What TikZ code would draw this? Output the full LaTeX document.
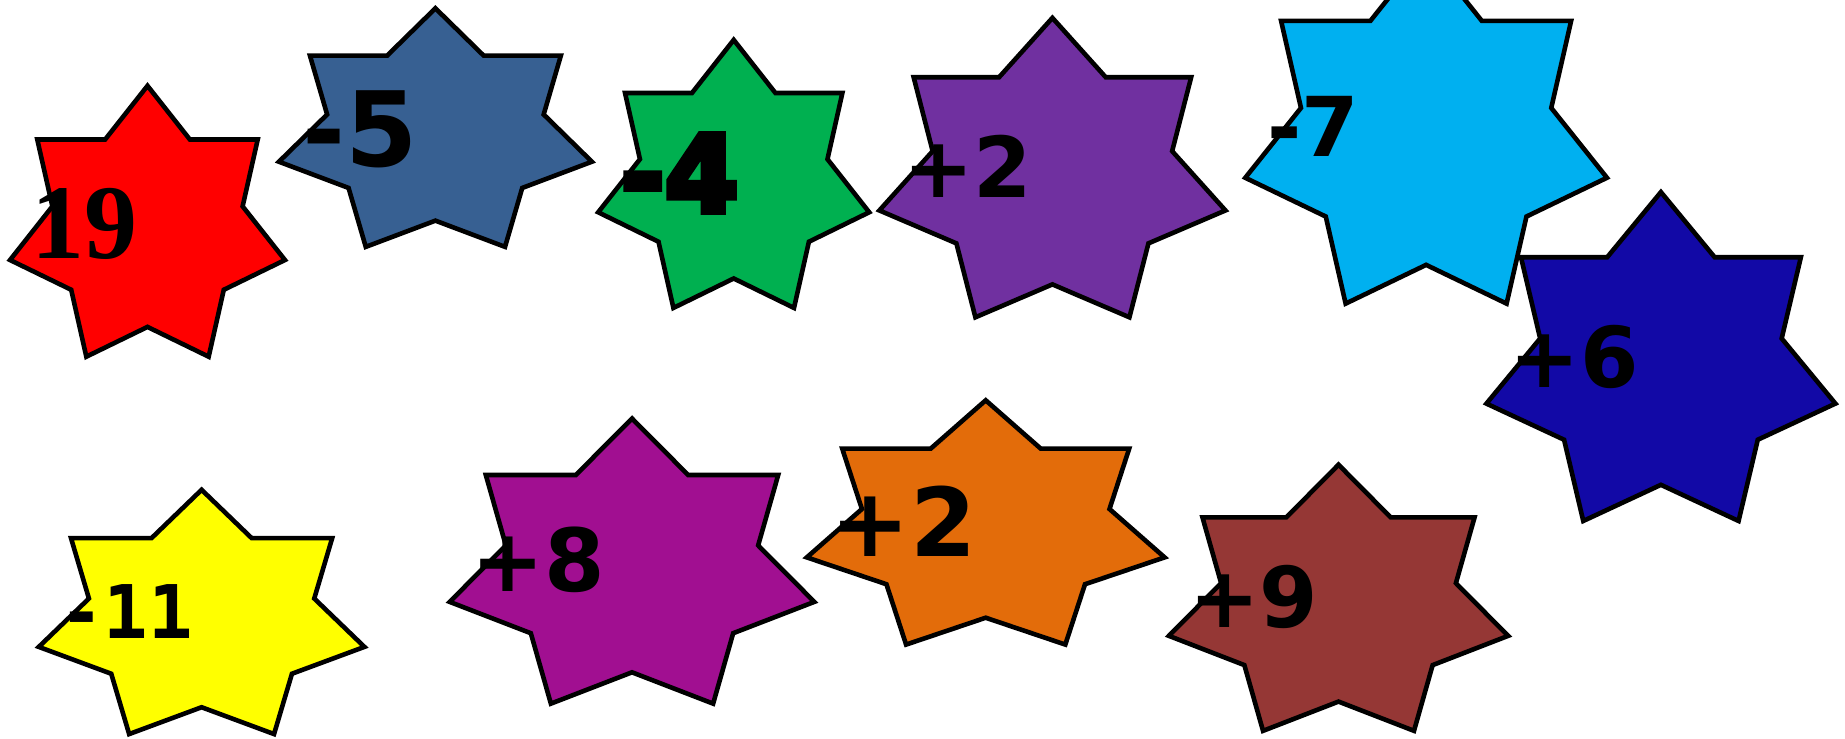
\documentclass[tikz,border=0pt]{standalone}
\usepackage{fontspec}
\setmainfont{DejaVu Sans}
\newfontfamily\timesbold{Liberation Serif}
\newfontfamily\monobold{DejaVu Sans Mono}
\newfontfamily\thickbold{DejaVu Sans}[BoldFeatures={FakeBold=6}]

\tikzset{
  starline/.style={draw=black, line width=2.3pt, line join=miter},
  numlabel/.style={anchor=base, inner sep=0pt, text=black}
}

% seven-point star: fill, cx, cy, rx, ry (pixel units, y down)
\newcommand{\heptagram}[5]{%
  \filldraw[starline, fill=#1] plot[samples at={0,...,13}]
    ({#2+#4*(1-0.308*mod(\x,2))*cos(-90+\x*180/7)},
     {#3+#5*(1-0.308*mod(\x,2))*sin(-90+\x*180/7)}) -- cycle;}

\definecolor{starred}{HTML}{FF0000}
\definecolor{starsteel}{HTML}{376092}
\definecolor{stargreen}{HTML}{00B050}
\definecolor{starpurple}{HTML}{7030A0}
\definecolor{starcyan}{HTML}{00B0F0}
\definecolor{starnavy}{HTML}{1209A6}
\definecolor{staryellow}{HTML}{FFFF00}
\definecolor{starmagenta}{HTML}{A10F91}
\definecolor{starorange}{HTML}{E36C0A}
\definecolor{starbrown}{HTML}{953735}

\begin{document}
\begin{tikzpicture}[x=0.5pt,y=-0.5pt]
\useasboundingbox (0,0) rectangle (1845,738);
% top row
\heptagram{starred}{147.5}{228.3}{141}{142.5}
\heptagram{starsteel}{435.4}{133.8}{160.5}{125.5}
\heptagram{stargreen}{733.7}{180.9}{139}{141}
\heptagram{starpurple}{1052.4}{175.4}{177.5}{157.5}
\heptagram{starcyan}{1426.1}{136.5}{185.5}{185.5}
\heptagram{starnavy}{1660.9}{365.1}{179}{173}
% bottom row
\heptagram{staryellow}{201.6}{618.3}{167}{128.5}
\heptagram{starmagenta}{632}{568.5}{187}{150}
\heptagram{starorange}{985.7}{528.8}{183.5}{128.5}
\heptagram{starbrown}{1338.5}{604.7}{174}{140}
% values
\node[numlabel, font=\timesbold\bfseries\fontsize{53}{60}\selectfont] (n19) at (84.2,258.9) {19};
\node[numlabel, font=\bfseries\fontsize{52}{60}\selectfont] (nm5) at (359.9,166.1) {-5};
\node[numlabel, font=\thickbold\bfseries\fontsize{53}{60}\selectfont] (nm4) at (679.6,211.6) {-4};
\node[numlabel, font=\bfseries\fontsize{42}{50}\selectfont] (np2a) at (967.4,197.7) {+2};
\node[numlabel, font=\bfseries\fontsize{41.3}{50}\selectfont] (nm7) at (1313,156.7) {-7};
\node[numlabel, font=\bfseries\fontsize{42}{50}\selectfont] (np6) at (1574.2,387.5) {+6};
\node[numlabel, font=\monobold\bfseries\fontsize{37}{44}\selectfont] (nm11) at (126.1,638.7) {-11};
\node[numlabel, font=\bfseries\fontsize{43.5}{50}\selectfont] (np8) at (538.3,591) {+8};
\node[numlabel, font=\bfseries\fontsize{47.5}{55}\selectfont] (np2b) at (903.7,556.8) {+2};
\node[numlabel, font=\bfseries\fontsize{42}{50}\selectfont] (np9) at (1253.9,627.3) {+9};
\end{tikzpicture}
\end{document}
